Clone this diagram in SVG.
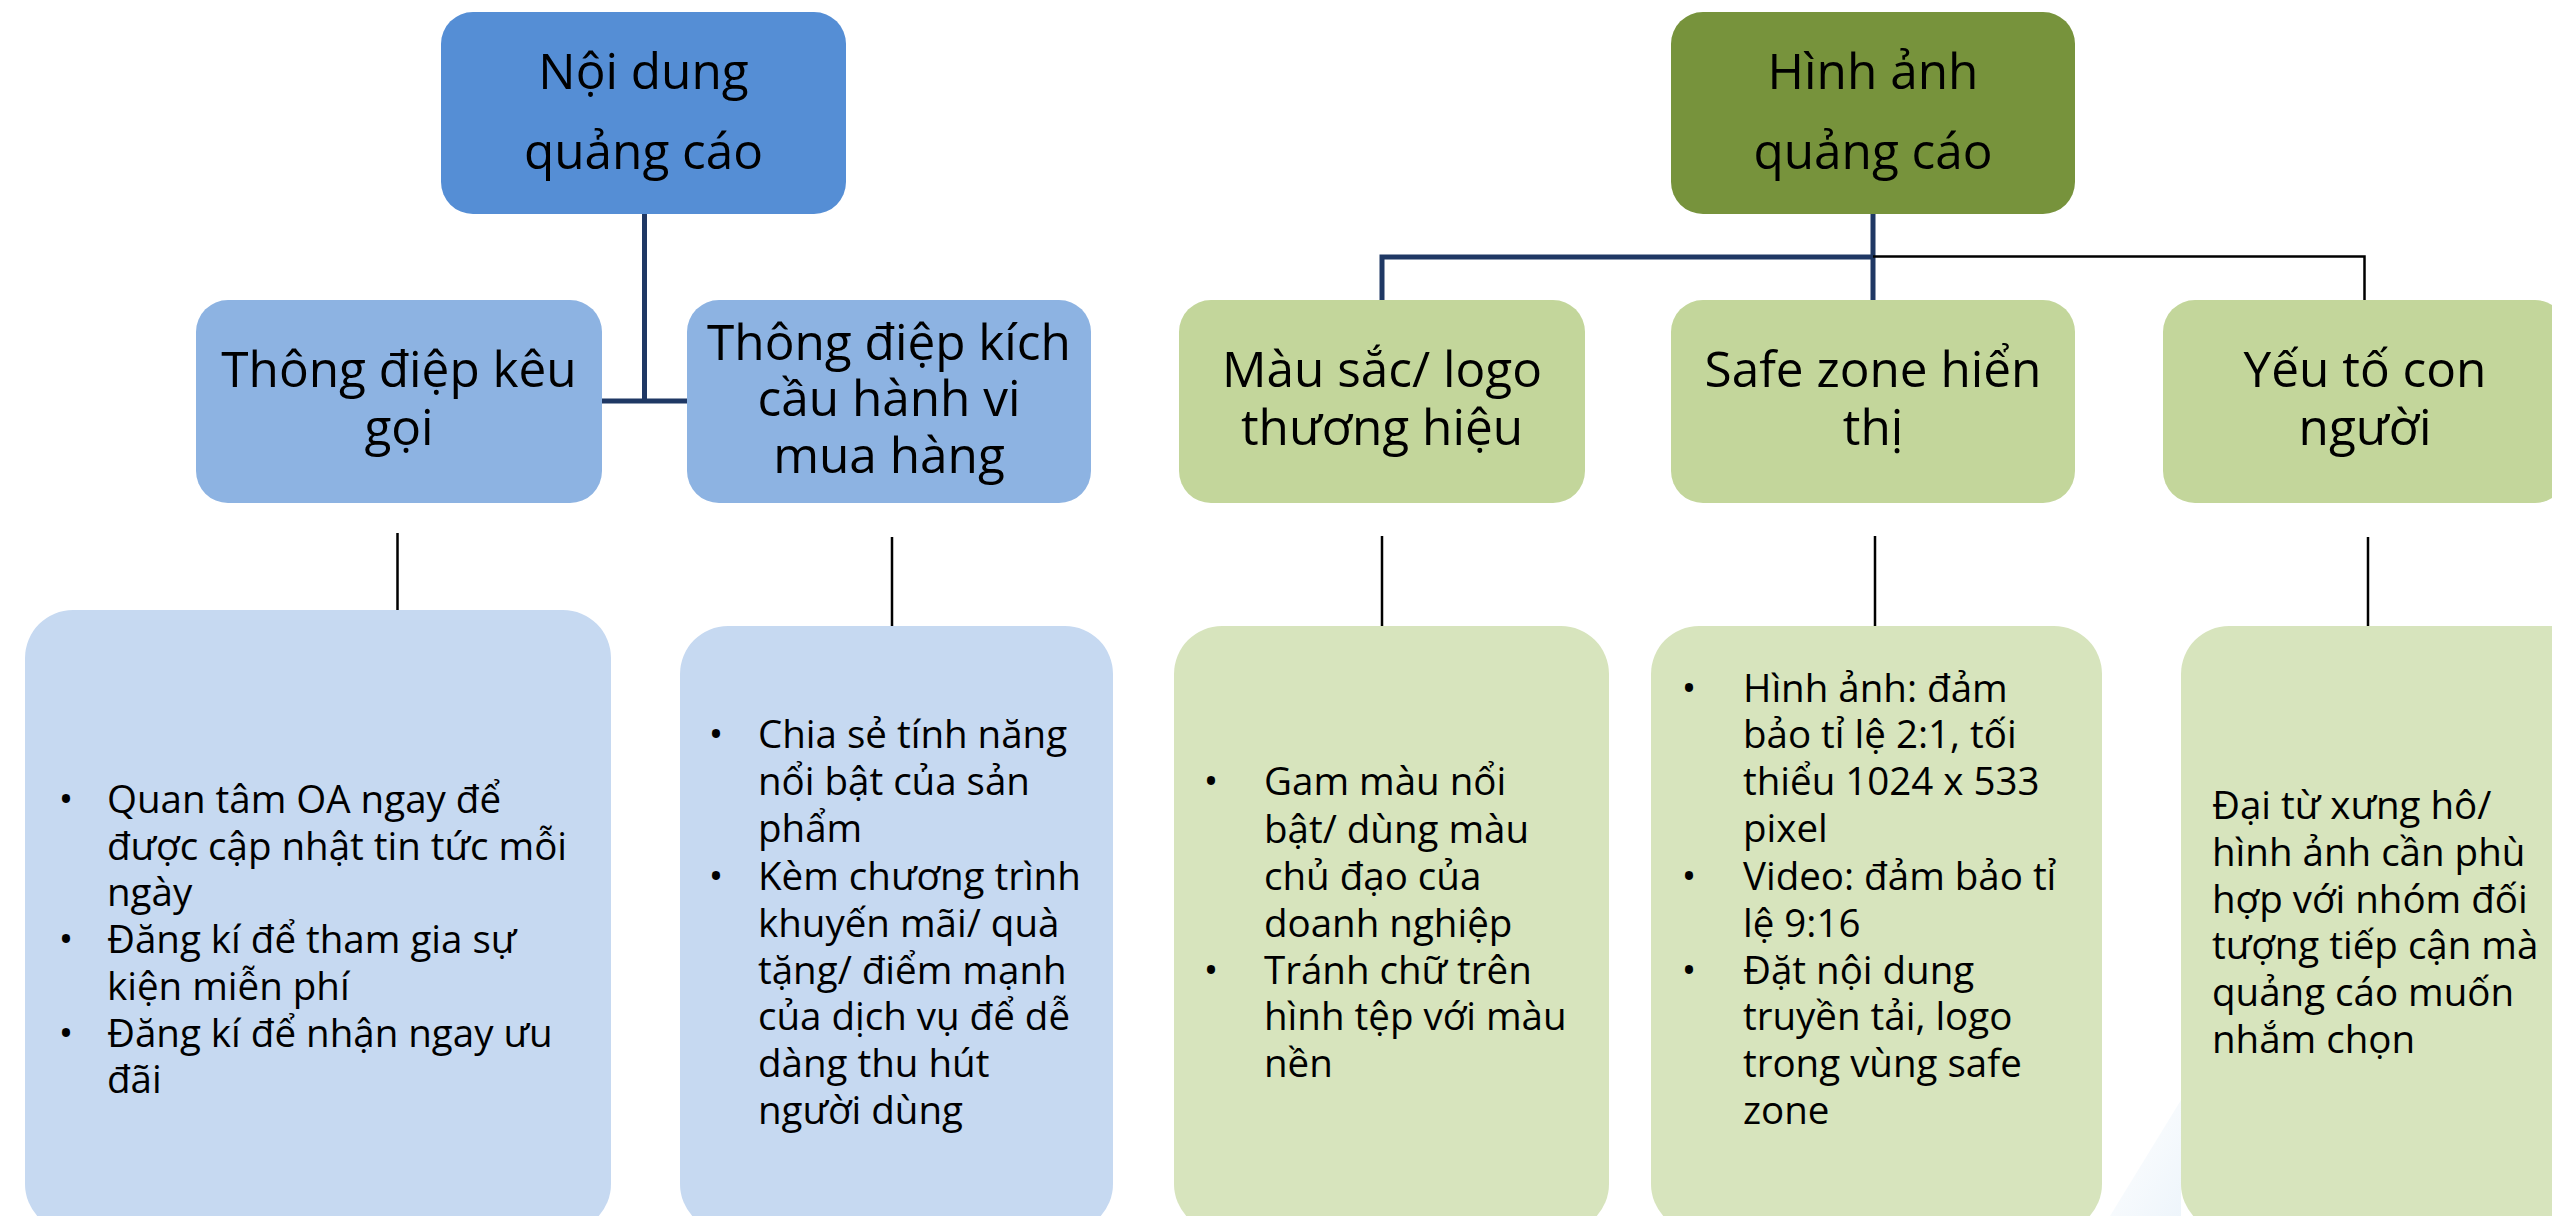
<svg xmlns="http://www.w3.org/2000/svg" width="2552" height="1216" viewBox="0 0 2552 1216">
<defs>
<linearGradient id="haze" x1="0" y1="0" x2="1" y2="1">
<stop offset="0" stop-color="#FFFFFF"/>
<stop offset="1" stop-color="#EEF5FB"/>
</linearGradient>
</defs>
<style>
text{font-family:"Open Sans","Noto Sans","DejaVu Sans",sans-serif;fill:#000}
.h{font-size:49.5px;text-anchor:middle}
.b{font-size:38.5px}
.bl{font-size:38.5px;text-anchor:middle}
.top-blue{fill:#558ED5}
.mid-blue{fill:#8DB3E2}
.low-blue{fill:#C6D9F1}
.top-green{fill:#77933C}
.mid-green{fill:#C3D69B}
.low-green{fill:#D7E4BD}
.navy{stroke:#1F3864;stroke-width:5;fill:none}
.thin{stroke:#000;stroke-width:2.5;fill:none}
</style>
<rect width="2552" height="1216" fill="#FFFFFF"/>
<polygon points="2110,1216 2181,1100 2181,1216" fill="url(#haze)"/>

<g id="connectors">
<path class="navy" d="M644.5,214 V401 M602,401 H687"/>
<path class="navy" d="M1873,214 V300 M1382,300 V257 H1873"/>
<path class="thin" d="M1873,256.5 H2364.5 V300"/>
<path class="thin" d="M397.5,533 V610 M892,537 V626 M1382,536 V626 M1875,536 V626 M2368,537 V627"/>
</g>

<g id="node-noi-dung">
<rect class="top-blue" x="441" y="12" width="405" height="202" rx="32"/>
<text class="h" x="643.5" y="89">Nội dung</text>
<text class="h" x="643.5" y="169">quảng cáo</text>
</g>

<g id="node-thong-diep-keu-goi">
<rect class="mid-blue" x="196" y="300" width="406" height="203" rx="32"/>
<text class="h" x="399" y="387">Thông điệp kêu</text>
<text class="h" x="399" y="445">gọi</text>
</g>

<g id="node-thong-diep-kich-cau">
<rect class="mid-blue" x="687" y="300" width="404" height="203" rx="32"/>
<text class="h" x="889" y="360">Thông điệp kích</text>
<text class="h" x="889" y="416">cầu hành vi</text>
<text class="h" x="889" y="473">mua hàng</text>
</g>

<g id="node-hinh-anh">
<rect class="top-green" x="1671" y="12" width="404" height="202" rx="32"/>
<text class="h" x="1873" y="89">Hình ảnh</text>
<text class="h" x="1873" y="169">quảng cáo</text>
</g>

<g id="node-mau-sac">
<rect class="mid-green" x="1179" y="300" width="406" height="203" rx="32"/>
<text class="h" x="1382" y="387">Màu sắc/ logo</text>
<text class="h" x="1382" y="445">thương hiệu</text>
</g>

<g id="node-safe-zone">
<rect class="mid-green" x="1671" y="300" width="404" height="203" rx="32"/>
<text class="h" x="1873" y="387">Safe zone hiển</text>
<text class="h" x="1873" y="445">thị</text>
</g>

<g id="node-yeu-to-con-nguoi">
<rect class="mid-green" x="2163" y="300" width="404" height="203" rx="32"/>
<text class="h" x="2365" y="387">Yếu tố con</text>
<text class="h" x="2365" y="445">người</text>
</g>

<g id="detail-keu-goi">
<rect class="low-blue" x="25" y="610" width="586" height="622" rx="48"/>
<text class="bl" x="66" y="813">•</text>
<text class="b" x="107" y="813">Quan tâm OA ngay để</text>
<text class="b" x="107" y="860">được cập nhật tin tức mỗi</text>
<text class="b" x="107" y="906">ngày</text>
<text class="bl" x="66" y="953">•</text>
<text class="b" x="107" y="953">Đăng kí để tham gia sự</text>
<text class="b" x="107" y="1000">kiện miễn phí</text>
<text class="bl" x="66" y="1047">•</text>
<text class="b" x="107" y="1047">Đăng kí để nhận ngay ưu</text>
<text class="b" x="107" y="1093">đãi</text>
</g>

<g id="detail-kich-cau">
<rect class="low-blue" x="680" y="626" width="433" height="606" rx="48"/>
<text class="bl" x="716" y="748">•</text>
<text class="b" x="758" y="748">Chia sẻ tính năng</text>
<text class="b" x="758" y="795">nổi bật của sản</text>
<text class="b" x="758" y="842">phẩm</text>
<text class="bl" x="716" y="890">•</text>
<text class="b" x="758" y="890">Kèm chương trình</text>
<text class="b" x="758" y="937">khuyến mãi/ quà</text>
<text class="b" x="758" y="984">tặng/ điểm mạnh</text>
<text class="b" x="758" y="1030">của dịch vụ để dễ</text>
<text class="b" x="758" y="1077">dàng thu hút</text>
<text class="b" x="758" y="1124">người dùng</text>
</g>

<g id="detail-mau-sac">
<rect class="low-green" x="1174" y="626" width="435" height="606" rx="48"/>
<text class="bl" x="1211" y="795">•</text>
<text class="b" x="1264" y="795">Gam màu nổi</text>
<text class="b" x="1264" y="843">bật/ dùng màu</text>
<text class="b" x="1264" y="890">chủ đạo của</text>
<text class="b" x="1264" y="937">doanh nghiệp</text>
<text class="bl" x="1211" y="984">•</text>
<text class="b" x="1264" y="984">Tránh chữ trên</text>
<text class="b" x="1264" y="1030">hình tệp với màu</text>
<text class="b" x="1264" y="1077">nền</text>
</g>

<g id="detail-safe-zone">
<rect class="low-green" x="1651" y="626" width="451" height="606" rx="48"/>
<text class="bl" x="1689" y="702">•</text>
<text class="b" x="1743" y="702">Hình ảnh: đảm</text>
<text class="b" x="1743" y="748">bảo tỉ lệ 2:1, tối</text>
<text class="b" x="1743" y="795">thiểu 1024 x 533</text>
<text class="b" x="1743" y="842">pixel</text>
<text class="bl" x="1689" y="890">•</text>
<text class="b" x="1743" y="890">Video: đảm bảo tỉ</text>
<text class="b" x="1743" y="937">lệ 9:16</text>
<text class="bl" x="1689" y="984">•</text>
<text class="b" x="1743" y="984">Đặt nội dung</text>
<text class="b" x="1743" y="1030">truyền tải, logo</text>
<text class="b" x="1743" y="1077">trong vùng safe</text>
<text class="b" x="1743" y="1124">zone</text>
</g>

<g id="detail-con-nguoi">
<rect class="low-green" x="2181" y="626" width="435" height="606" rx="48"/>
<text class="b" x="2212" y="819">Đại từ xưng hô/</text>
<text class="b" x="2212" y="866">hình ảnh cần phù</text>
<text class="b" x="2212" y="913">hợp với nhóm đối</text>
<text class="b" x="2212" y="959">tượng tiếp cận mà</text>
<text class="b" x="2212" y="1006">quảng cáo muốn</text>
<text class="b" x="2212" y="1053">nhắm chọn</text>
</g>
</svg>
